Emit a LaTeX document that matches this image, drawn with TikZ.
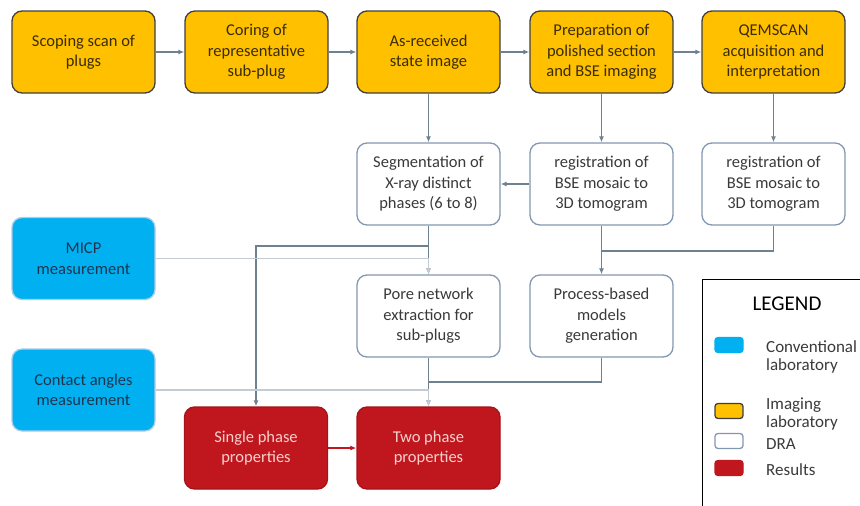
\documentclass[tikz,border=0pt]{standalone}
\usepackage{fontspec}
\setmainfont{Carlito}
\usetikzlibrary{arrows.meta, positioning}
\definecolor{imgyellow}{HTML}{FFC000}
\definecolor{imgedge}{HTML}{3F3F3F}
\definecolor{imgtext}{HTML}{3A2C05}
\definecolor{labblue}{HTML}{00B0F0}
\definecolor{labedge}{HTML}{A9CDEB}
\definecolor{labtext}{HTML}{1F3550}
\definecolor{draedge}{HTML}{8497B0}
\definecolor{dratext}{HTML}{3A3A3A}
\definecolor{resred}{HTML}{C0171F}
\definecolor{resedge}{HTML}{A51218}
\definecolor{restext}{HTML}{F6D0CC}
\definecolor{arrgray}{HTML}{6D8191}
\definecolor{palegray}{HTML}{C3CCD5}
\tikzset{
  box/.style = {rectangle, rounded corners=10pt, minimum width=143pt, minimum height=82pt, align=center, font=\fontsize{16.5}{20.5}\selectfont, line width=1.3pt, inner sep=4pt},
  imgbox/.style = {box, draw=imgedge, fill=imgyellow, text=imgtext},
  labbox/.style = {box, draw=labedge, fill=labblue, text=labtext},
  drabox/.style = {box, draw=draedge, fill=white, text=dratext},
  resbox/.style = {box, draw=resedge, fill=resred, text=restext},
  swatch/.style = {rectangle, rounded corners=3pt, minimum width=28pt, minimum height=15pt, line width=1.3pt, inner sep=0pt},
  legtext/.style = {anchor=west, align=left, font=\fontsize{17}{18.5}\selectfont, text=dratext, inner sep=0pt},
  arr/.style = {-{Latex[length=6pt,width=5pt]}, draw=arrgray, line width=1.3pt},
  link/.style = {draw=arrgray, line width=1.3pt},
  palearr/.style = {-{Latex[length=6pt,width=5pt]}, draw=palegray, line width=1.3pt},
  redarr/.style = {-{Latex[length=6pt,width=5pt]}, draw=resred, line width=1.3pt}
}
\begin{document}
\begin{tikzpicture}[x=1pt, y=-1pt]
\useasboundingbox (0,0) rectangle (860,506);

% Imaging laboratory row
\node[imgbox] (scan)    at (83.5,52)  {Scoping scan of\\plugs};
\node[imgbox] (coring)  at (256.5,52) {Coring of\\representative\\sub-plug};
\node[imgbox] (asrec)   at (428.5,52) {As-received\\state image};
\node[imgbox] (polish)  at (601.5,52) {Preparation of\\polished section\\and BSE imaging};
\node[imgbox] (qemscan) at (773.5,52) {QEMSCAN\\acquisition and\\interpretation};

% DRA row
\node[drabox] (seg)  at (428.5,184) {Segmentation of\\X-ray distinct\\phases (6 to 8)};
\node[drabox] (reg)  at (601.5,184) {registration of\\BSE mosaic to\\3D tomogram};
\node[drabox] (regq) at (773.5,184) {registration of\\BSE mosaic to\\3D tomogram};

\node[drabox] (pore)    at (428.5,316) {Pore network\\extraction for\\sub-plugs};
\node[drabox] (process) at (601.5,316) {Process-based\\models\\generation};

% Conventional laboratory
\node[labbox] (micp)    at (83.5,258.5) {MICP\\measurement};
\node[labbox] (contact) at (83.5,390)   {Contact angles\\measurement};

% Results
\node[resbox] (single) at (256,448)   {Single phase\\properties};
\node[resbox] (two)    at (428.5,448) {Two phase\\properties};

% junctions
\coordinate (j1) at (428.5,246);
\coordinate (j2) at (601.5,251);
\coordinate (j3) at (428.5,382);

% Top row: left -> right
\draw[arr] (scan.east) -- (coring.west);
\draw[arr] (coring.east) -- (asrec.west);
\draw[arr] (asrec.east) -- (polish.west);
\draw[arr] (polish.east) -- (qemscan.west);

% Down to DRA row
\draw[arr] (asrec.south) -- (seg.north);
\draw[arr] (polish.south) -- (reg.north);
\draw[arr] (qemscan.south) -- (regq.north);
\draw[arr] (reg.west) -- (seg.east);

% Segmentation -> pore network and single phase
\draw[arr] (seg.south) -- (j1) -| (single.north);
\draw[arr] (seg.south) -- (pore.north);
\draw[palearr] (micp.east) -| (pore.north);

% Registrations -> process-based models
\draw[arr] (reg.south) -- (process.north);
\draw[link] (regq.south) |- (j2);

% Pore network and process-based -> two phase
\draw[arr] (pore.south) -- (two.north);
\draw[link] (process.south) |- (j3);
\draw[palearr] (contact.east) -| (two.north);

\draw[redarr] (single.east) -- (two.west);

% Legend
\draw[line width=1pt] (860,279) -- (702,279) -- (702,506);
\node[font=\fontsize{21}{24}\selectfont, text=black] (legtitle) at (787,304) {LEGEND};
\node[swatch, fill=labblue, draw=labblue]   (swconv) at (729,345) {};
\node[swatch, fill=imgyellow, draw=imgedge] (swimg)  at (729,411) {};
\node[swatch, fill=white, draw=draedge]     (swdra)  at (729,441) {};
\node[swatch, fill=resred, draw=resred]     (swres)  at (729,468) {};
\node[legtext] (txconv) at (766,357) {Conventional\\laboratory};
\node[legtext] (tximg)  at (766,414) {Imaging\\laboratory};
\node[legtext] (txdra)  at (766,444) {DRA};
\node[legtext] (txres)  at (766,470) {Results};
\end{tikzpicture}
\end{document}
